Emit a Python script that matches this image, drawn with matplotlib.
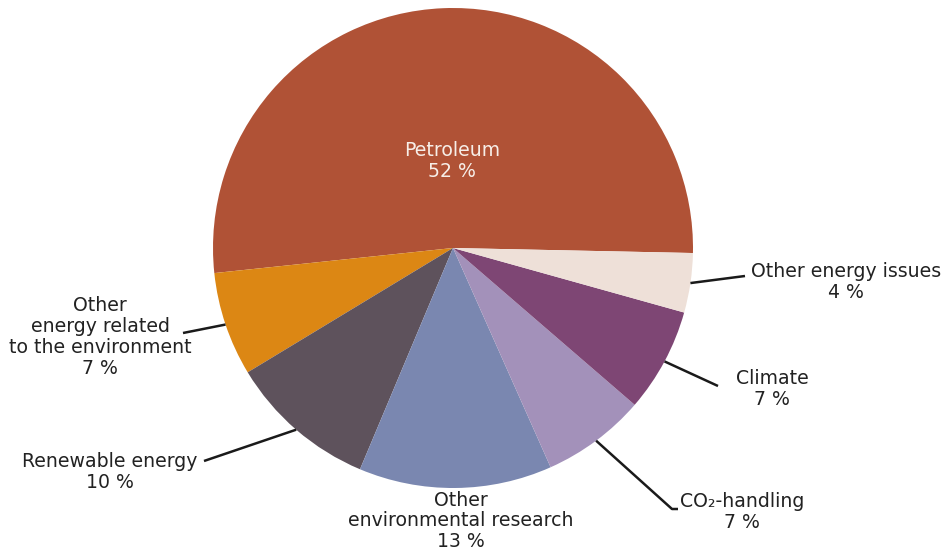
import matplotlib.pyplot as plt
import numpy as np

# slices, counterclockwise from the right-hand edge of Petroleum
categories = ['Petroleum', 'Other\nenergy related\nto the environment', 'Renewable energy',
              'Other\nenvironmental research', 'CO\u2082-handling', 'Climate', 'Other energy issues']
shares = [52, 7, 10, 13, 7, 7, 4]
colors = ['#B05236', '#DC8714', '#5E525C', '#7A87B0', '#A391BA', '#7E4674', '#EEE0D8']

# layout in pixels of the 946x552 picture
CX, CY, R = 453, 248, 240
W, H = 946, 552

def px(x, y):
    return (x - CX) / R, (CY - y) / R

fig = plt.figure(figsize=(W / 100, H / 100), dpi=100)
ax = fig.add_axes([0, 0, 1, 1])

wedges, _ = ax.pie(shares, colors=colors, startangle=-1.2, counterclock=True,
                   radius=1, center=(0, 0), wedgeprops=dict(linewidth=0))

ax.set_xlim(px(0, 0)[0], px(W, 0)[0])
ax.set_ylim(px(0, H)[1], px(0, 0)[1])
ax.set_aspect('equal')
ax.axis('off')

# text block centre and leader line end (pixels), None = no leader
layout = {
    'Petroleum': ((452, 161), None),
    'Other\nenergy related\nto the environment': ((100, 337), [(183, 333)]),
    'Renewable energy': ((110, 472), [(204, 461)]),
    'Other\nenvironmental research': ((461, 521), None),
    'CO\u2082-handling': ((742, 512), [(672, 509), (678, 509)]),
    'Climate': ((772, 389), [(718, 386)]),
    'Other energy issues': ((846, 282), [(745, 276)]),
}

text_color = '#222222'
for w, name, val in zip(wedges, categories, shares):
    (tx, ty), leader = layout[name]
    col = '#F7EEE8' if name == 'Petroleum' else text_color
    ax.text(*px(tx, ty), f'{name}\n{val} %', ha='center', va='center',
            multialignment='center', fontsize=13.6, color=col, linespacing=1.12)
    if leader:
        mid = np.deg2rad((w.theta1 + w.theta2) / 2)
        xs = [np.cos(mid)] + [px(*p)[0] for p in leader]
        ys = [np.sin(mid)] + [px(*p)[1] for p in leader]
        ax.plot(xs, ys, color='#1a1a1a', lw=1.8, solid_capstyle='butt')

fig.savefig('out.png', dpi=100)
